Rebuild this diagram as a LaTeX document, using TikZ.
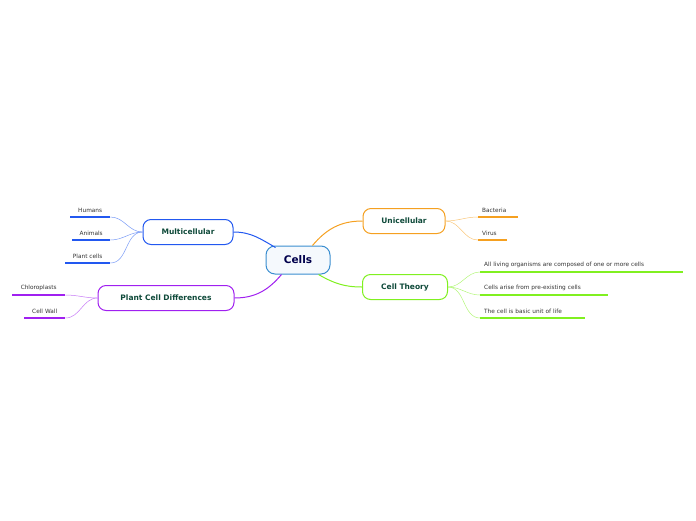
\documentclass[tikz,border=0pt]{standalone}
\usepackage{fontspec}
\setmainfont{DejaVu Sans}
\definecolor{cblue}{HTML}{2258F0}
\definecolor{cpurple}{HTML}{A020F0}
\definecolor{corange}{HTML}{F5A020}
\definecolor{cgreen}{HTML}{80F020}
\definecolor{croot}{HTML}{3A8ED0}
\definecolor{ctext}{HTML}{0F4A3A}
\begin{document}
\begin{tikzpicture}[x=1pt,y=-1pt,
  root/.style={draw=croot,fill=croot!5,rounded corners=9pt,line width=1pt,minimum width=64pt,minimum height=28pt,font=\fontsize{10.5}{12}\selectfont\bfseries,text=blue!30!black},
  topic/.style={draw=#1,fill=white,rounded corners=8pt,line width=1pt,minimum height=25pt,font=\fontsize{7.5}{9}\selectfont\bfseries,text=ctext},
  leaf/.style={anchor=south west,inner xsep=4pt,inner ysep=4pt,font=\fontsize{5.8}{7}\selectfont,text=black!80,
    append after command={(\tikzlastnode.south west) edge[#1,line width=1.6pt] (\tikzlastnode.south east)}},
  main/.style={#1,line width=1pt},
  twig/.style={#1!60,line width=0.5pt}]
\useasboundingbox (0,0) rectangle (696,520);
% root and topics
\node[root] (cells) at (298,260) {Cells};
\node[topic=cblue,minimum width=90pt] (multi) at (188,232) {Multicellular};
\node[topic=cpurple,minimum width=136pt] (plant) at (166,298) {Plant Cell Differences};
\node[topic=corange,minimum width=82pt] (uni) at (404,221) {Unicellular};
\node[topic=cgreen,minimum width=85pt] (theory) at (405,287) {Cell Theory};
% leaves
\node[leaf=cblue,text width=32pt,align=center] (hum) at (70,217) {Humans};
\node[leaf=cblue,text width=30pt,align=center] (ani) at (72,240) {Animals};
\node[leaf=cblue,text width=37pt,align=center] (pc) at (65,263) {Plant cells};
\node[leaf=cpurple,text width=45pt,align=center] (chl) at (12,295) {Chloroplasts};
\node[leaf=cpurple,text width=33pt,align=center] (wall) at (24,318) {Cell Wall};
\node[leaf=corange,text width=32pt,align=left] (bac) at (478,217) {Bacteria};
\node[leaf=corange,text width=21pt,align=left] (vir) at (478,240) {Virus};
\node[leaf=cgreen,text width=195pt,align=left] (t1) at (480,272) {All living organisms are composed of one or more cells};
\node[leaf=cgreen,text width=120pt,align=left] (t2) at (480,295) {Cells arise from pre-existing cells};
\node[leaf=cgreen,text width=97pt,align=left] (t3) at (480,318) {The cell is basic unit of life};
% main branches
\draw[main=cblue] (cells.north west) ++(10,2) to[out=150,in=0] (multi.east);
\draw[main=cpurple] (cells.south west) ++(16,0) to[out=-130,in=0] (plant.east);
\draw[main=corange] (cells.north east) ++(-18,0) to[out=50,in=180] (uni.west);
\draw[main=cgreen] (cells.south east) ++(-12,0) to[out=-30,in=180] (theory.west);
% twigs
\foreach \l in {hum,ani,pc} \draw[twig=cblue] (multi.west) to[out=180,in=0] (\l.south east);
\foreach \l in {chl,wall} \draw[twig=cpurple] (plant.west) to[out=180,in=0] (\l.south east);
\foreach \l in {bac,vir} \draw[twig=corange] (uni.east) to[out=0,in=180] (\l.south west);
\foreach \l in {t1,t2,t3} \draw[twig=cgreen] (theory.east) to[out=0,in=180] (\l.south west);
\end{tikzpicture}
\end{document}
